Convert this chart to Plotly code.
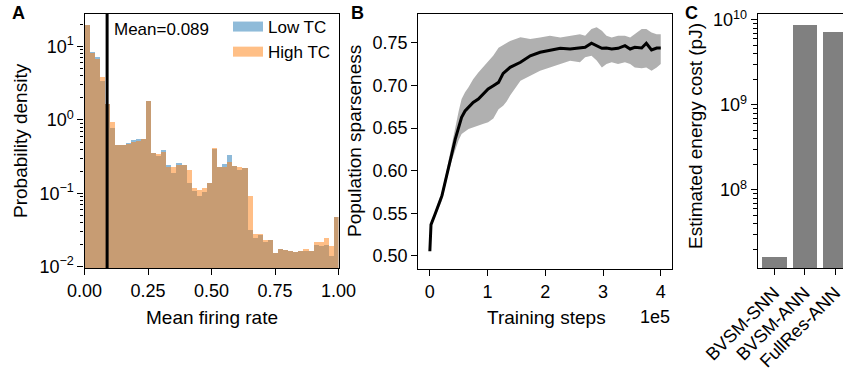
import numpy as np
import plotly.graph_objects as go

W, H = 843, 374
FONT = "Liberation Sans, Arial, sans-serif"
FS_TICK = 18
FS_TITLE = 19
FS_SMALL = 17

# ---------------- Panel A data (histogram, 50 bins on [0,1]) ----------------
bin_edges = [round(0.02 * i, 2) for i in range(51)]
low_tc = [19.7, 8.4, 7.1, 3.4, 1.65, 0.77, 0.46, 0.45, 0.49, 0.53,
          0.55, 0.55, 1.8, 0.35, 0.32, 0.385, 0.244, 0.19, 0.257, 0.244,
          0.137, 0.106, 0.092, 0.103, 0.137, 0.40, 0.23, 0.25, 0.33, 0.236,
          0.21, 0.219, 0.032, 0.0245, 0.027, 0.022, 0.023, 0.0156, 0.0175, 0.017,
          0.0165, 0.0158, 0.0163, 0.0165, 0.0166, 0.020, 0.019, 0.020, 0.0141, 0.048]
high_tc = [19.7, 8.1, 6.8, 3.9, 1.65, 0.95, 0.46, 0.45, 0.47, 0.50,
           0.52, 0.55, 1.8, 0.35, 0.345, 0.37, 0.23, 0.225, 0.245, 0.24,
           0.209, 0.118, 0.11, 0.12, 0.14, 0.41, 0.225, 0.23, 0.27, 0.236,
           0.226, 0.219, 0.092, 0.028, 0.028, 0.023, 0.023, 0.0156, 0.0175, 0.017,
           0.0165, 0.016, 0.0163, 0.0175, 0.0166, 0.022, 0.022, 0.0243, 0.019, 0.048]
mean_rate = 0.089
a_xticks = [0.0, 0.25, 0.5, 0.75, 1.0]
a_xticktext = ["0.00", "0.25", "0.50", "0.75", "1.00"]
a_yticks = [1e-2, 1e-1, 1e0, 1e1]
a_yticktext = ["10<sup>\u22122</sup>", "10<sup>\u22121</sup>", "10<sup>0</sup>", "10<sup>1</sup>"]

# ---------------- Panel B data (training curve) ----------------
steps = [0.00, 0.02, 0.09, 0.15, 0.21, 0.27, 0.32, 0.38, 0.44, 0.50,
         0.55, 0.61, 0.67, 0.75, 0.84, 0.93, 1.01, 1.10, 1.19, 1.27,
         1.33, 1.39, 1.57, 1.74, 1.91, 2.08, 2.26, 2.43, 2.60, 2.69,
         2.80, 2.89, 2.98, 3.06, 3.15, 3.26, 3.38, 3.47, 3.55, 3.67,
         3.75, 3.84, 3.93, 4.00]
sparse_mean = [0.5055, 0.5367, 0.549, 0.559, 0.5707, 0.588, 0.604, 0.6195, 0.637, 0.651,
               0.6625, 0.670, 0.674, 0.680, 0.684, 0.690, 0.6957, 0.6996, 0.7035, 0.714,
               0.717, 0.7211, 0.727, 0.7347, 0.7387, 0.7414, 0.7434, 0.7426, 0.7437, 0.7446,
               0.7493, 0.7465, 0.7434, 0.7437, 0.7426, 0.7434, 0.7465, 0.7426, 0.7446, 0.7437,
               0.7493, 0.7414, 0.7437, 0.7437]
sparse_upper = [0.506, 0.538, 0.552, 0.563, 0.576, 0.594, 0.611, 0.630, 0.652, 0.670,
                0.684, 0.692, 0.6977, 0.707, 0.715, 0.722, 0.7289, 0.735, 0.744, 0.747,
                0.750, 0.752, 0.7563, 0.7543, 0.756, 0.758, 0.756, 0.758, 0.760, 0.758,
                0.766, 0.768, 0.764, 0.758, 0.756, 0.758, 0.758, 0.756, 0.760, 0.766,
                0.766, 0.762, 0.760, 0.760]
sparse_lower = [0.505, 0.535, 0.546, 0.555, 0.565, 0.582, 0.597, 0.612, 0.625, 0.636,
                0.643, 0.646, 0.6488, 0.651, 0.6527, 0.655, 0.6567, 0.661, 0.672, 0.676,
                0.681, 0.688, 0.7054, 0.7113, 0.7172, 0.7211, 0.725, 0.7289, 0.727, 0.733,
                0.7347, 0.729, 0.721, 0.725, 0.727, 0.725, 0.727, 0.725, 0.721, 0.720,
                0.721, 0.7172, 0.721, 0.725]
step_scale = 1e5
b_xticks = [0, 1, 2, 3, 4]
b_yticks = [0.50, 0.55, 0.60, 0.65, 0.70, 0.75]

# ---------------- Panel C data (energy) ----------------
models = ["BVSM-SNN", "BVSM-ANN", "FullRes-ANN"]
energy_pj = [1.61e7, 8.74e9, 7.17e9]
c_yticks = [1e8, 1e9, 1e10]
c_yticktext = ["10<sup>8</sup>", "10<sup>9</sup>", "10<sup>10</sup>"]


def px(x):
    return x / W


def py(y):
    return 1 - y / H


def minor_log(lo, hi):
    vals = []
    for e in range(lo, hi + 1):
        for m in range(2, 10):
            vals.append(m * 10 ** e)
    return vals


fig = go.Figure()

# Panel A histogram bars
centers = [(bin_edges[i] + bin_edges[i + 1]) / 2 for i in range(len(bin_edges) - 1)]
widths = [bin_edges[i + 1] - bin_edges[i] for i in range(len(bin_edges) - 1)]
fig.add_trace(go.Bar(x=centers, y=low_tc, width=widths, marker=dict(color="#1f77b4", line=dict(width=0)),
                     opacity=0.5, showlegend=False, xaxis="x", yaxis="y"))
fig.add_trace(go.Bar(x=centers, y=high_tc, width=widths, marker=dict(color="#ff7f0e", line=dict(width=0)),
                     opacity=0.5, showlegend=False, xaxis="x", yaxis="y"))
# legend proxies
fig.add_trace(go.Scatter(x=[None], y=[None], mode="lines", name="Low TC",
                         line=dict(color="rgba(31,119,180,0.5)", width=11), xaxis="x", yaxis="y"))
fig.add_trace(go.Scatter(x=[None], y=[None], mode="lines", name="High TC",
                         line=dict(color="rgba(255,127,14,0.5)", width=11), xaxis="x", yaxis="y"))

# Panel B
xs = [s * step_scale for s in steps]
fig.add_trace(go.Scatter(x=xs + xs[::-1], y=sparse_upper + sparse_lower[::-1], fill="toself",
                         fillcolor="#b0b0b0", line=dict(width=0), mode="lines", showlegend=False,
                         hoverinfo="skip", xaxis="x2", yaxis="y2"))
fig.add_trace(go.Scatter(x=xs, y=sparse_mean, mode="lines", line=dict(color="black", width=3),
                         showlegend=False, xaxis="x2", yaxis="y2"))

# Panel C
fig.add_trace(go.Bar(x=models, y=energy_pj, width=0.8, marker=dict(color="#808080", line=dict(width=0)),
                     showlegend=False, xaxis="x3", yaxis="y3"))

axis_common = dict(showline=True, linecolor="black", linewidth=1.2, ticks="outside", ticklen=6,
                   tickwidth=1.2, tickcolor="black", showgrid=False, zeroline=False,
                   tickfont=dict(family=FONT, size=FS_TICK, color="black"), automargin=False)

fig.update_layout(
    width=W, height=H, margin=dict(l=0, r=0, t=0, b=0),
    paper_bgcolor="white", plot_bgcolor="white",
    barmode="overlay", bargap=0,
    font=dict(family=FONT, size=FS_TICK, color="black"),
    xaxis=dict(domain=[px(84.5), px(338.5)], range=[0, 1], tickvals=a_xticks, ticktext=a_xticktext,
               mirror=True, anchor="y", **axis_common),
    yaxis=dict(domain=[py(268), py(14)], type="log", range=[-2.018, 1.444], tickvals=a_yticks,
               ticktext=a_yticktext, mirror=True, anchor="x",
               minor=dict(tickvals=minor_log(-2, 1), ticklen=3.5, tickwidth=1, tickcolor="black", ticks="outside"),
               **axis_common),
    xaxis2=dict(domain=[px(418.3), px(672.3)], range=[-0.2e5, 4.2e5],
                tickvals=[t * step_scale for t in b_xticks], ticktext=[str(t) for t in b_xticks],
                mirror=True, anchor="y2", **axis_common),
    yaxis2=dict(domain=[py(269.3), py(14)], range=[0.4844, 0.7836], tickvals=b_yticks,
                ticktext=["%.2f" % v for v in b_yticks], mirror=True, anchor="x2", **axis_common),
    xaxis3=dict(domain=[px(757.7), 1], range=[-0.54, 2.262], tickangle=-45, mirror=True, anchor="y3",
                **axis_common),
    yaxis3=dict(domain=[py(268.3), py(14)], type="log", range=[7.079, 10.07], tickvals=c_yticks,
                ticktext=c_yticktext, anchor="x3",
                minor=dict(tickvals=minor_log(7, 9), ticklen=3.5, tickwidth=1, tickcolor="black", ticks="outside"),
                **axis_common),
    legend=dict(x=px(228), y=py(9), xanchor="left", yanchor="top", bgcolor="rgba(0,0,0,0)",
                font=dict(family=FONT, size=FS_SMALL), tracegroupgap=0, itemwidth=30),
    showlegend=True,
)

# Mean line in panel A
fig.add_shape(type="line", xref="x", yref="y domain", x0=mean_rate, x1=mean_rate, y0=0, y1=1,
              line=dict(color="black", width=3))

ann = []
def add_text(text, x, y, size=FS_TITLE, angle=0, xanchor="center", yanchor="middle", bold=False):
    ann.append(dict(text=("<b>%s</b>" % text) if bold else text, x=px(x), y=py(y), xref="paper", yref="paper",
                    showarrow=False, textangle=angle, xanchor=xanchor, yanchor=yanchor,
                    font=dict(family=FONT, size=size, color="black")))

add_text("Mean=%.3f" % mean_rate, 112, 30, size=FS_SMALL, xanchor="left")
add_text("Probability density", 21, 141, angle=-90)
add_text("Mean firing rate", 212, 317)
add_text("Population sparseness", 355, 141, angle=-90)
add_text("Training steps", 546, 317)
add_text("1e5", 672, 317, size=FS_TICK, xanchor="right")
add_text("Estimated energy cost (pJ)", 695, 136, angle=-90)
add_text("A", 18, 13, size=18, bold=True)
add_text("B", 357, 13, size=18, bold=True)
add_text("C", 691, 13, size=18, bold=True)
fig.update_layout(annotations=ann)

fig.write_html("out.html")
